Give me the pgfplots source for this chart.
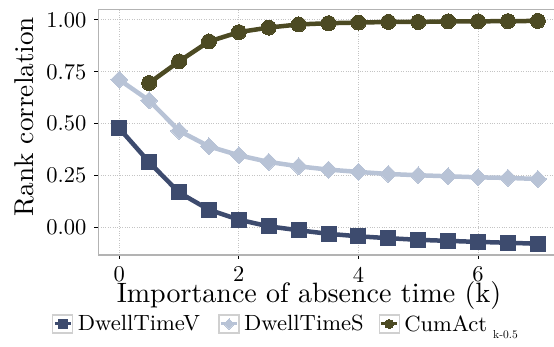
\documentclass[border=0pt]{standalone}
\usepackage{fontspec}
\usepackage{pgfplots}
\pgfplotsset{compat=1.18}

\definecolor{dwellV}{HTML}{3D4B6E}
\definecolor{dwellS}{HTML}{B8C3D6}
\definecolor{cumact}{HTML}{4C4A23}
\definecolor{panelgrey}{HTML}{B3B3B3}
\definecolor{gridgrey}{HTML}{C4C4C4}
\definecolor{keygrey}{HTML}{D0D0D0}

% text is set small and enlarged, so the small optical design of the font is kept
\newcommand{\enlarged}[3]{\scalebox{#1}{\fontsize{#2}{#2}\selectfont #3}}
% legend text cell of fixed width
\newcommand{\keytext}[2]{\makebox[#1][l]{\hspace{4.5pt}#2}}

\begin{document}
\begin{tikzpicture}
\begin{axis}[
  scale only axis, width=460.5pt, height=245.5pt,
  xmin=-0.35, xmax=7.35, ymin=-0.132, ymax=1.050,
  axis line style={panelgrey, line width=1.2pt},
  xtick={0,2,4,6}, ytick={0,0.25,0.5,0.75,1},
  xtick pos=lower, ytick pos=left,
  tick align=outside, major tick length=4pt,
  tick style={black, line width=1pt},
  grid=major, major grid style={gridgrey, dotted, line width=0.9pt},
  /pgf/number format/assume math mode=true,
  ticklabel style={font=\fontsize{10}{12}\selectfont, scale=2.25},
  y tick label style={/pgf/number format/fixed, /pgf/number format/fixed zerofill, /pgf/number format/precision=2},
  xlabel={Importance of absence time (k)},
  ylabel={Rank correlation},
  every axis x label/.style={at={(axis description cs:0.4576,-0.1955)}, anchor=base,
    font=\fontsize{10}{12}\selectfont, scale=2.8},
  every axis y label/.style={at={(axis description cs:-0.1412,0.564)}, rotate=90, anchor=base,
    font=\fontsize{10}{12}\selectfont, scale=2.72},
  legend columns=3,
  legend cell align=left,
  legend style={at={(axis description cs:-0.1005,-0.281)}, anchor=west,
    draw=none, fill=none, inner sep=0pt, column sep=0pt,
    nodes={inner sep=0pt}},
  legend image code/.code={
    \draw[draw=keygrey, fill=white, line width=1.2pt] (0pt,-9pt) rectangle (20pt,9pt);
    \draw[#1, line width=3pt, every mark/.append style={scale=0.6}, mark repeat=2, mark phase=2]
      plot coordinates {(2pt,0pt) (10pt,0pt) (18pt,0pt)};
  },
]
\coordinate (panelSW) at (rel axis cs:0,0);

\addplot[dwellV, line width=4.5pt, mark=square*, mark size=7.5pt,
  mark options={solid, fill=dwellV, line width=0pt}]
  coordinates {(0,0.478) (0.5,0.315) (1,0.169) (1.5,0.086) (2,0.038) (2.5,0.006)
    (3,-0.013) (3.5,-0.030) (4,-0.042) (4.5,-0.051) (5,-0.059) (5.5,-0.064)
    (6,-0.069) (6.5,-0.073) (7,-0.078)};
\addlegendentry{\keytext{145pt}{\enlarged{2.5}{8.8}{DwellTimeV}}}

\addplot[dwellS, line width=4.5pt, mark=square*, mark size=6pt,
  mark options={solid, fill=dwellS, line width=0pt, rotate=45}]
  coordinates {(0,0.712) (0.5,0.612) (1,0.466) (1.5,0.391) (2,0.348) (2.5,0.316)
    (3,0.295) (3.5,0.279) (4,0.268) (4.5,0.258) (5,0.252) (5.5,0.247)
    (6,0.242) (6.5,0.239) (7,0.234)};
\addlegendentry{\keytext{139pt}{\enlarged{2.5}{8.8}{DwellTimeS}}}

\addplot[cumact, line width=4.5pt, mark=*, mark size=7.5pt,
  mark options={solid, fill=cumact, line width=0pt}]
  coordinates {(0.5,0.696) (1,0.800) (1.5,0.896) (2,0.941) (2.5,0.963)
    (3,0.978) (3.5,0.984) (4,0.987) (4.5,0.990) (5,0.990) (5.5,0.993)
    (6,0.993) (6.5,0.994) (7,0.995)};
\addlegendentry{\keytext{120pt}{\enlarged{2.5}{8.8}{CumAct}\raisebox{-7pt}[0pt][0pt]{\hspace{6pt}\enlarged{1.15}{10}{k-0.5}}}}

\end{axis}
\pgfresetboundingbox
\useasboundingbox ([shift={(-98.3pt,-92pt)}]panelSW) rectangle ([shift={(455.7pt,255pt)}]panelSW);
\end{tikzpicture}
\end{document}
